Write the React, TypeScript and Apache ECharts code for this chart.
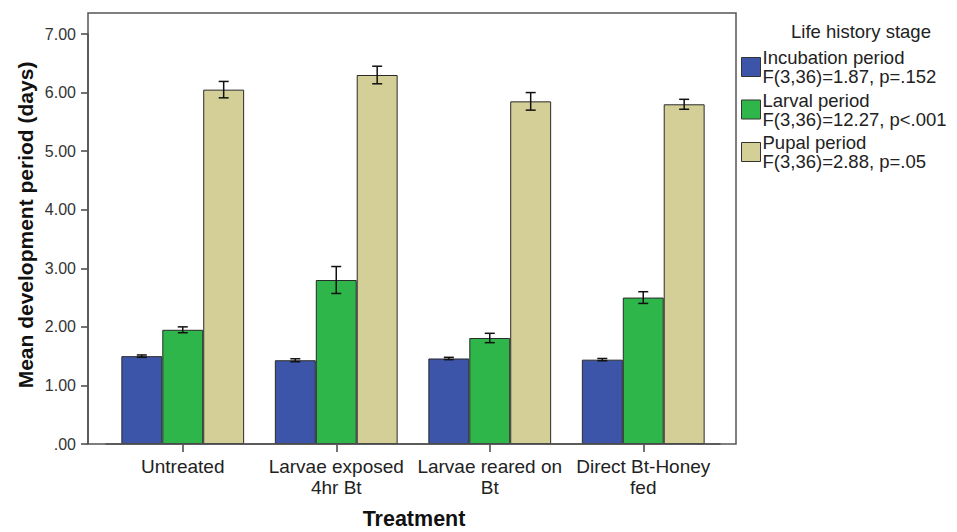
import React, { useEffect, useRef } from "react";
import * as echarts from "echarts";

const categories = ["Untreated", "Larvae exposed\n4hr Bt", "Larvae reared on\nBt", "Direct Bt-Honey\nfed"];
const seriesNames = ["Incubation period", "Larval period", "Pupal period"];
const legendStats = ["F(3,36)=1.87, p=.152", "F(3,36)=12.27, p<.001", "F(3,36)=2.88, p=.05"];
const incubation = [1.5, 1.43, 1.46, 1.44];
const incubationErr = [0.02, 0.025, 0.02, 0.02];
const larval = [1.95, 2.8, 1.81, 2.5];
const larvalErr = [0.05, 0.23, 0.08, 0.1];
const pupal = [6.05, 6.3, 5.85, 5.8];
const pupalErr = [0.14, 0.15, 0.15, 0.085];
const colors = ["#3d55a8", "#2fb64a", "#d3cf97"];
const yTicks = [0, 1, 2, 3, 4, 5, 6, 7];

const FONT = "'Liberation Sans', Arial, sans-serif";

export default function App() {
  const ref = useRef<HTMLDivElement>(null);
  useEffect(() => {
    const chart = echarts.init(ref.current!, null, { renderer: "svg" });
    const values = [incubation, larval, pupal];
    const errs = [incubationErr, larvalErr, pupalErr];
    const barSeries = seriesNames.map((name, i) => ({
      name,
      type: "bar",
      data: values[i],
      barGap: "0%",
      barCategoryGap: "20%",
      itemStyle: { color: colors[i], borderColor: "#2a2a2a", borderWidth: 1 },
      z: 2,
    }));
    const errSeries = seriesNames.map((name, s) => ({
      type: "custom",
      name: name + " error",
      z: 5,
      data: values[s].map((v, k) => [k, v, errs[s][k]]),
      renderItem: (params: any, api: any) => {
        const k = api.value(0);
        const v = api.value(1);
        const e = api.value(2);
        const band = api.size([1, 0])[0];
        const barW = (band * 0.8) / 3;
        const cx = api.coord([k, v])[0] + (s - 1) * barW;
        const yt = api.coord([k, v + e])[1];
        const yb = api.coord([k, v - e])[1];
        const hw = 5;
        const style = { stroke: "#111", lineWidth: 1.5 };
        return {
          type: "group",
          children: [
            { type: "line", shape: { x1: cx, y1: yt, x2: cx, y2: yb }, style },
            { type: "line", shape: { x1: cx - hw, y1: yt, x2: cx + hw, y2: yt }, style },
            { type: "line", shape: { x1: cx - hw, y1: yb, x2: cx + hw, y2: yb }, style },
          ],
        };
      },
      tooltip: { show: false },
    }));
    chart.setOption({
      animation: false,
      backgroundColor: "#ffffff",
      textStyle: { fontFamily: FONT },
      grid: { left: 106, right: 237, top: 34, bottom: 88, containLabel: false },
      xAxis: {
        type: "category",
        data: categories,
        axisLine: { show: true, lineStyle: { color: "#444", width: 1.5 } },
        axisTick: { show: true, alignWithLabel: true, length: 8, lineStyle: { color: "#444", width: 1.5 } },
        axisLabel: { interval: 0, fontSize: 19, lineHeight: 21, color: "#222", margin: 12, fontFamily: FONT },
      },
      yAxis: {
        type: "value",
        min: 0,
        max: 7,
        interval: 1,
        offset: 18,
        axisLine: { show: true, lineStyle: { color: "#444", width: 1.5 } },
        axisTick: { show: true, length: 7, lineStyle: { color: "#444", width: 1.5 } },
        splitLine: { show: false },
        axisLabel: {
          fontSize: 16,
          color: "#333",
          margin: 12,
          fontFamily: FONT,
          formatter: (v: number) => (yTicks.includes(v) ? (v === 0 ? ".00" : v.toFixed(2)) : ""),
        },
      },
      legend: {
        orient: "vertical",
        left: 741,
        top: 48,
        padding: 0,
        itemGap: 4.5,
        itemWidth: 19,
        itemHeight: 19,
        icon: "rect",
        data: seriesNames,
        itemStyle: { borderColor: "#333", borderWidth: 1 },
        textStyle: { fontSize: 18.5, lineHeight: 19, color: "#222", fontFamily: FONT, padding: [0, 0, 0, -3] },
        formatter: (name: string) => name + "\n" + legendStats[seriesNames.indexOf(name)],
      },
      graphic: [
        {
          type: "rect",
          shape: { x: 88, y: 13, width: 648, height: 431 },
          style: { fill: "none", stroke: "#555", lineWidth: 1.5 },
          z: 10,
          silent: true,
        },
        {
          type: "text",
          x: 861,
          y: 31,
          style: { text: "Life history stage", fontSize: 18.5, fill: "#222", fontFamily: FONT, textAlign: "center", textVerticalAlign: "middle" },
        },
        {
          type: "text",
          x: 25,
          y: 225,
          rotation: Math.PI / 2,
          style: { text: "Mean development period (days)", fontSize: 21, fontWeight: "bold", fill: "#111", fontFamily: FONT, textAlign: "center", textVerticalAlign: "middle" },
        },
        {
          type: "text",
          x: 414,
          y: 519,
          style: { text: "Treatment", fontSize: 21.5, fontWeight: "bold", fill: "#111", fontFamily: FONT, textAlign: "center", textVerticalAlign: "middle" },
        },
      ],
      series: [...barSeries, ...errSeries],
    });
    return () => chart.dispose();
  }, []);
  return <div ref={ref} style={{ width: 957, height: 532, position: "absolute", left: 0, top: 0 }} />;
}
